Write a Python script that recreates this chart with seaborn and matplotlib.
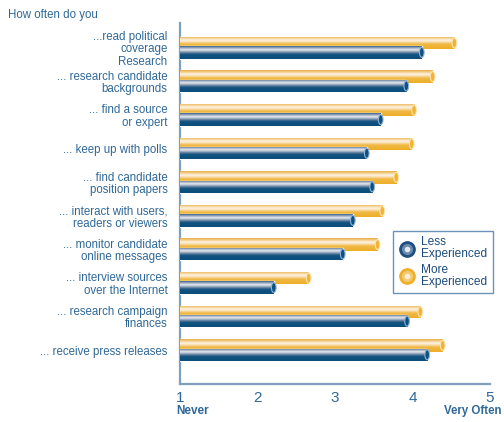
import matplotlib
matplotlib.use("Agg")
import matplotlib.pyplot as plt
import numpy as np
import pandas as pd
import seaborn as sns
from matplotlib.colors import LinearSegmentedColormap
from matplotlib.lines import Line2D
from matplotlib.patches import Ellipse

# values (1 = Never ... 5 = Very Often)
categories = [
    "...read political\ncoverage\nResearch",
    "... research candidate\nbackgrounds",
    "... find a source\nor expert",
    "... keep up with polls",
    "... find candidate\nposition papers",
    "... interact with users,\nreaders or viewers",
    "... monitor candidate\nonline messages",
    "... interview sources\nover the Internet",
    "... research campaign\nfinances",
    "... receive press releases",
]
more_experienced = [4.54, 4.26, 4.02, 3.99, 3.79, 3.61, 3.55, 2.66, 4.10, 4.39]
less_experienced = [4.12, 3.92, 3.59, 3.41, 3.48, 3.23, 3.10, 2.21, 3.93, 4.19]
x_ticks = [1, 2, 3, 4, 5]
scale_min = 1

text_blue = "#2F6898"
dark_blue = "#1D4C7C"
axis_blue = "#7F9FBF"

df = pd.DataFrame({
    "category": categories * 2,
    "group": ["More"] * len(categories) + ["Less"] * len(categories),
    "value": more_experienced + less_experienced,
})

sns.set_style("white")
plt.rcParams["font.family"] = ["Liberation Sans", "DejaVu Sans"]

fig = plt.figure(figsize=(5.04, 4.22), dpi=100)
ax = fig.add_axes([180 / 504, 1 - 384 / 422, 310 / 504, 361 / 422])

sns.barplot(data=df, y="category", x="value", hue="group",
            hue_order=["More", "Less"], order=categories,
            palette={"More": "#EEB02A", "Less": "#0E4F7C"},
            orient="h", width=0.56, dodge=True, saturation=1,
            legend=False, ax=ax)

# pipe-like shading for the bars
yellow_cmap = LinearSegmentedColormap.from_list("yel", [
    (0.0, "#E9AE45"), (0.15, "#F5CF8C"), (0.32, "#FDF4E6"),
    (0.48, "#F7D79E"), (0.62, "#F0B943"), (1.0, "#EDAF28")])
blue_cmap = LinearSegmentedColormap.from_list("blu", [
    (0.0, "#3A6690"), (0.12, "#8D9EB5"), (0.28, "#E8EDF3"),
    (0.42, "#9CABC0"), (0.55, "#4A6E93"), (0.66, "#0F5381"),
    (1.0, "#0D4E7B")])
grad = np.linspace(0, 1, 64).reshape(-1, 1)

bar_h = 0.37
for cont, cmap, cap_edge, z in [
        (ax.containers[0], yellow_cmap, "#FBE3B0", 2),
        (ax.containers[1], blue_cmap, "#8FB3D6", 3)]:
    for patch in cont.patches:
        # bars start at the bottom of the scale (1 = Never)
        x_end = patch.get_x() + patch.get_width()
        patch.set_x(scale_min)
        patch.set_width(x_end - scale_min)
        yc = patch.get_y() + patch.get_height() / 2
        patch.set_y(yc - bar_h / 2)
        patch.set_height(bar_h)
        patch.set_zorder(z)
        img = ax.imshow(grad, cmap=cmap, aspect="auto", interpolation="bilinear",
                        extent=(scale_min, x_end, yc + bar_h / 2, yc - bar_h / 2),
                        zorder=z + 0.1)
        img.set_clip_path(patch)
        cap = Ellipse((x_end, yc), 0.06, bar_h * 0.8, facecolor=cmap(0.8),
                      edgecolor=cap_edge, linewidth=0.8, zorder=z + 0.2)
        ax.add_patch(cap)

ax.set_xlim(1, 5)
ax.set_ylim(9 + 1.01, -0.735)
ax.set_xticks(x_ticks)
ax.set_xticklabels([str(t) for t in x_ticks])
ax.set_xlabel("")
ax.set_ylabel("")
ax.tick_params(axis="x", length=0, pad=5, labelsize=11, labelcolor=text_blue)
ax.tick_params(axis="y", length=0, pad=9, labelsize=8.3, labelcolor=text_blue)
for lab in ax.get_yticklabels():
    lab.set_linespacing(1.05)

sns.despine(ax=ax)
for side in ["left", "bottom"]:
    ax.spines[side].set_color(axis_blue)
    ax.spines[side].set_linewidth(1.6)
    ax.spines[side].set_zorder(1.5)

fig.text(8 / 504, 1 - 15 / 422, "How often do you", fontsize=8.3,
         color=text_blue, va="center", ha="left")
fig.text(176 / 504, 1 - 411 / 422, "Never", fontsize=8.5, color=text_blue,
         va="center", ha="left", fontweight="semibold")
fig.text(502 / 504, 1 - 411 / 422, "Very Often", fontsize=8.3, color=text_blue,
         va="center", ha="right", fontweight="semibold")

# legend with shaded dots
def dot(outer, mid, inner):
    return (Line2D([], [], ls="", marker="o", ms=11, mfc=outer, mec=outer),
            Line2D([], [], ls="", marker="o", ms=7, mfc=mid, mec=mid),
            Line2D([], [], ls="", marker="o", ms=3, mfc=inner, mec=inner))

handles = [dot("#1F4E7E", "#6A8AAE", "#E3E9F0"),
           dot("#EEB02A", "#F4CA72", "#FCF0DA")]
leg = ax.legend(handles, ["Less\nExperienced", "More\nExperienced"],
                loc="upper left", bbox_to_anchor=(393 / 504, 1 - 231 / 422),
                bbox_transform=fig.transFigure, borderaxespad=0,
                fontsize=8.6, labelcolor=dark_blue, fancybox=False,
                edgecolor="#4A78A6", handletextpad=0.5, handlelength=1.4,
                borderpad=0.45, labelspacing=0.3)
leg.get_frame().set_linewidth(1.0)
for t in leg.get_texts():
    t.set_linespacing(1.0)

fig.savefig("out.png", dpi=100)
